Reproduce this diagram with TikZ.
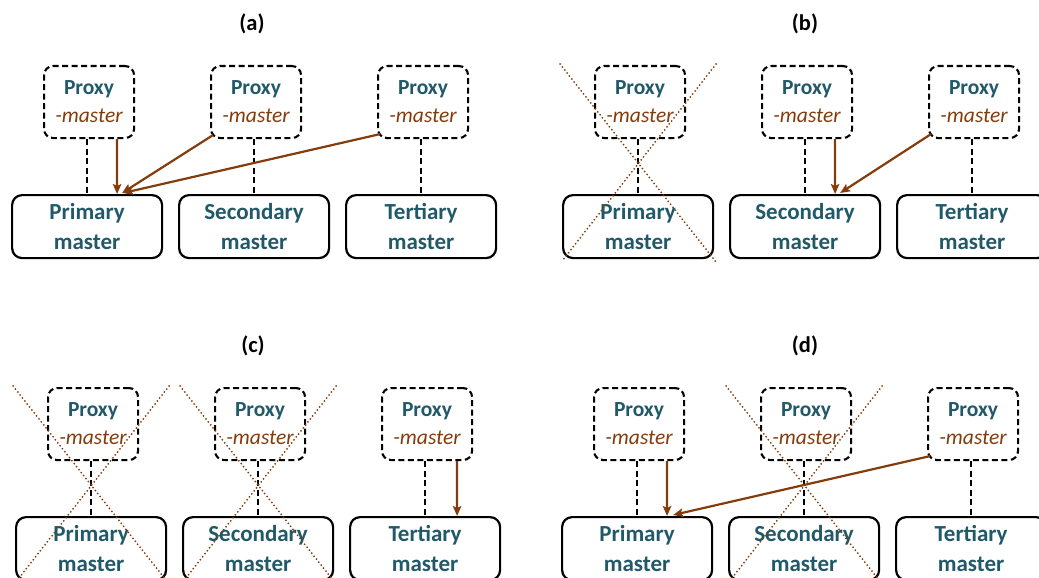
\documentclass[tikz,border=0pt]{standalone}
\usepackage{fontspec}
\setmainfont{Carlito}
\usetikzlibrary{arrows.meta,calc}

\definecolor{txtteal}{HTML}{215968}
\definecolor{arrbrown}{HTML}{843C0C}

\tikzset{
  proxybox/.style={draw, dash pattern=on 6pt off 3.5pt, line width=2.1pt,
    rounded corners=9pt, minimum width=90pt, minimum height=72pt,
    align=center, inner sep=0pt, font=\fontsize{21.5}{28}\selectfont},
  masterbox/.style={draw, line width=2.2pt, rounded corners=10pt,
    minimum width=150pt, minimum height=63pt, align=center, inner sep=0pt,
    text=txtteal, font=\bfseries\fontsize{23}{30}\selectfont},
  link/.style={dash pattern=on 6pt off 3.5pt, line width=2.1pt},
  flow/.style={draw=arrbrown, line width=2.2pt,
    -{Stealth[length=10pt,width=8.5pt,inset=2pt]}},
  crossline/.style={draw=arrbrown, line width=2pt, line cap=round,
    dash pattern=on 0pt off 3.8pt},
  paneltitle/.style={font=\bfseries\fontsize{22.5}{26}\selectfont}
}

% One panel: three proxies above three masters, with dashed links.
% #1 panel id, #2 left edge of the first master box, #3 top of the proxies
\newcommand\drawpanel[3]{%
  \foreach \i/\nm in {1/Primary,2/Secondary,3/Tertiary}{%
    \node[masterbox, anchor=north west] (#1-m\i)
      at ({#2+167*(\i-1)}, {#3+129}) {\nm\\master};
    \node[proxybox, anchor=north west] (#1-p\i)
      at ({#2+32+167*(\i-1)}, #3)
      {{\bfseries\color{txtteal}Proxy}\\{\itshape\color{arrbrown}-master}};
    \draw[link] (#1-m\i.north |- #1-p\i.south) -- (#1-m\i.north);
  }%
}

% Dotted cross over a failed proxy/master pair. #1 panel id, #2 column
\newcommand\crossout[2]{%
  \coordinate (#1-x#2) at ($(#1-p#2.south)!0.5!(#1-m#2.north)+(-1,-3.5)$);
  \draw[crossline] ($(#1-x#2)+(-78,-99)$) -- ($(#1-x#2)+(78,99)$);
  \draw[crossline] ($(#1-x#2)+(78,-99)$) -- ($(#1-x#2)+(-76,98)$);
}

\begin{document}
\begin{tikzpicture}[x=1pt, y=-1pt]
  \useasboundingbox (0,0) rectangle (1039,578);
  \clip (0,0) rectangle (1039,578);

  % (a) all masters up, every proxy points at the primary
  \node[paneltitle] (ta) at (252,24) {(a)};
  \drawpanel{a}{11}{65}
  \draw[flow] ($(a-p1.south)+(28,0)$) -- ($(a-m1.north)+(30,0)$);
  \draw[flow] ($(a-p2.south west)+(3,-4)$) -- ($(a-m1.north)+(35,-1)$);
  \draw[flow] ($(a-p3.south west)+(3,-5)$) -- ($(a-m1.north)+(36,-1)$);

  % (b) primary down, proxies switch to the secondary
  \node[paneltitle] (tb) at (805,24) {(b)};
  \drawpanel{b}{562}{65}
  \crossout{b}{1}
  \draw[flow] ($(b-p2.south)+(28,0)$) -- ($(b-m2.north)+(30,0)$);
  \draw[flow] ($(b-p3.south west)+(3,-5)$) -- ($(b-m2.north)+(35,-1)$);

  % (c) primary and secondary down, tertiary serves alone
  \node[paneltitle] (tc) at (253,346) {(c)};
  \drawpanel{c}{15}{387}
  \crossout{c}{1}
  \crossout{c}{2}
  \draw[flow] ($(c-p3.south)+(30,0)$) -- ($(c-m3.north)+(32,0)$);

  % (d) secondary down, proxies return to the primary
  \node[paneltitle] (td) at (805,346) {(d)};
  \drawpanel{d}{561}{387}
  \crossout{d}{2}
  \draw[flow] ($(d-p1.south)+(28,0)$) -- ($(d-m1.north)+(30,0)$);
  \draw[flow] ($(d-p3.south west)+(3,-5)$) -- ($(d-m1.north)+(36,-1)$);
\end{tikzpicture}
\end{document}
